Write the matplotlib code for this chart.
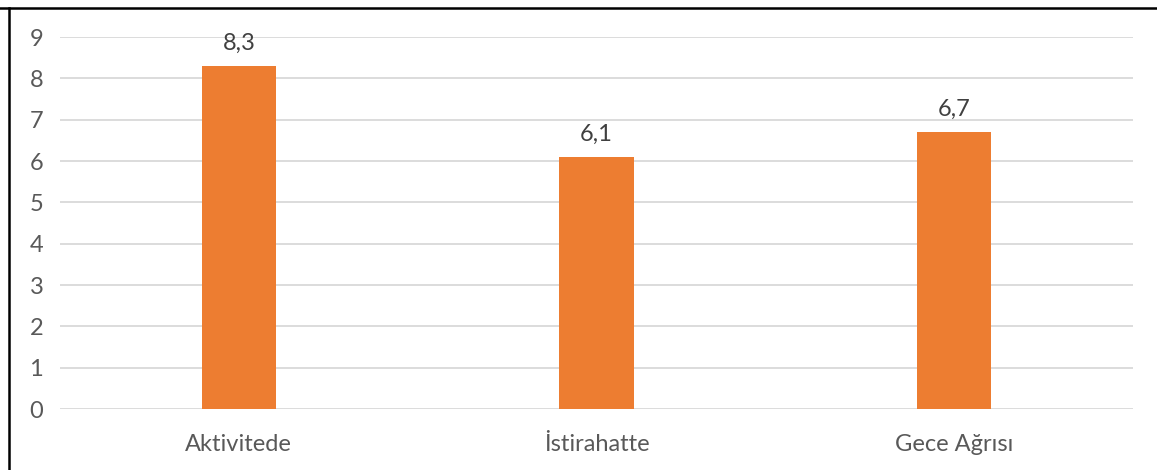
import matplotlib
matplotlib.use("Agg")
import matplotlib.pyplot as plt
from matplotlib.lines import Line2D

categories = ["Aktivitede", "İstirahatte", "Gece Ağrısı"]
values = [8.3, 6.1, 6.7]
value_labels = ["8,3", "6,1", "6,7"]
yticks = list(range(0, 10))

plt.rcParams['font.family'] = ['Lato', 'DejaVu Sans']

W, H = 1157, 470
fig = plt.figure(figsize=(W / 100, H / 100), dpi=100)
fig.patch.set_facecolor("white")

left, right = 60 / W, 1133 / W
bottom, top = 1 - 409 / H, 1 - 37 / H
ax = fig.add_axes([left, bottom, right - left, top - bottom])

x = list(range(len(categories)))
bars = ax.bar(x, values, width=0.207, color="#ED7D31", zorder=3)
ax.set_xlim(-0.5, len(categories) - 0.5)
ax.set_ylim(0, 9)
ax.set_yticks(yticks)
ax.set_yticklabels([str(t) for t in yticks])
ax.set_xticks(x)
ax.set_xticklabels(categories)

ax.grid(axis="y", color="#D9D9D9", linewidth=1.3, zorder=0)
for s in ax.spines.values():
    s.set_visible(False)
ax.tick_params(axis="both", length=0, colors="#595959", labelsize=17)
ax.tick_params(axis="y", pad=17)
ax.tick_params(axis="x", pad=18)
for lab in ax.get_yticklabels():
    lab.set_horizontalalignment("center")

for b, lab in zip(bars, value_labels):
    ax.annotate(lab, (b.get_x() + b.get_width() / 2, b.get_height()),
                xytext=(0, 9), textcoords="offset points",
                ha="center", va="bottom", fontsize=17, color="#404040")

# frame lines (top and left)
fig.add_artist(Line2D([0, 1], [1 - 7.5 / H, 1 - 7.5 / H], transform=fig.transFigure,
                      color="black", linewidth=1.8))
fig.add_artist(Line2D([8.5 / W, 8.5 / W], [0, 1 - 7.5 / H], transform=fig.transFigure,
                      color="black", linewidth=1.8))

fig.savefig("out.png", dpi=100, facecolor="white")
